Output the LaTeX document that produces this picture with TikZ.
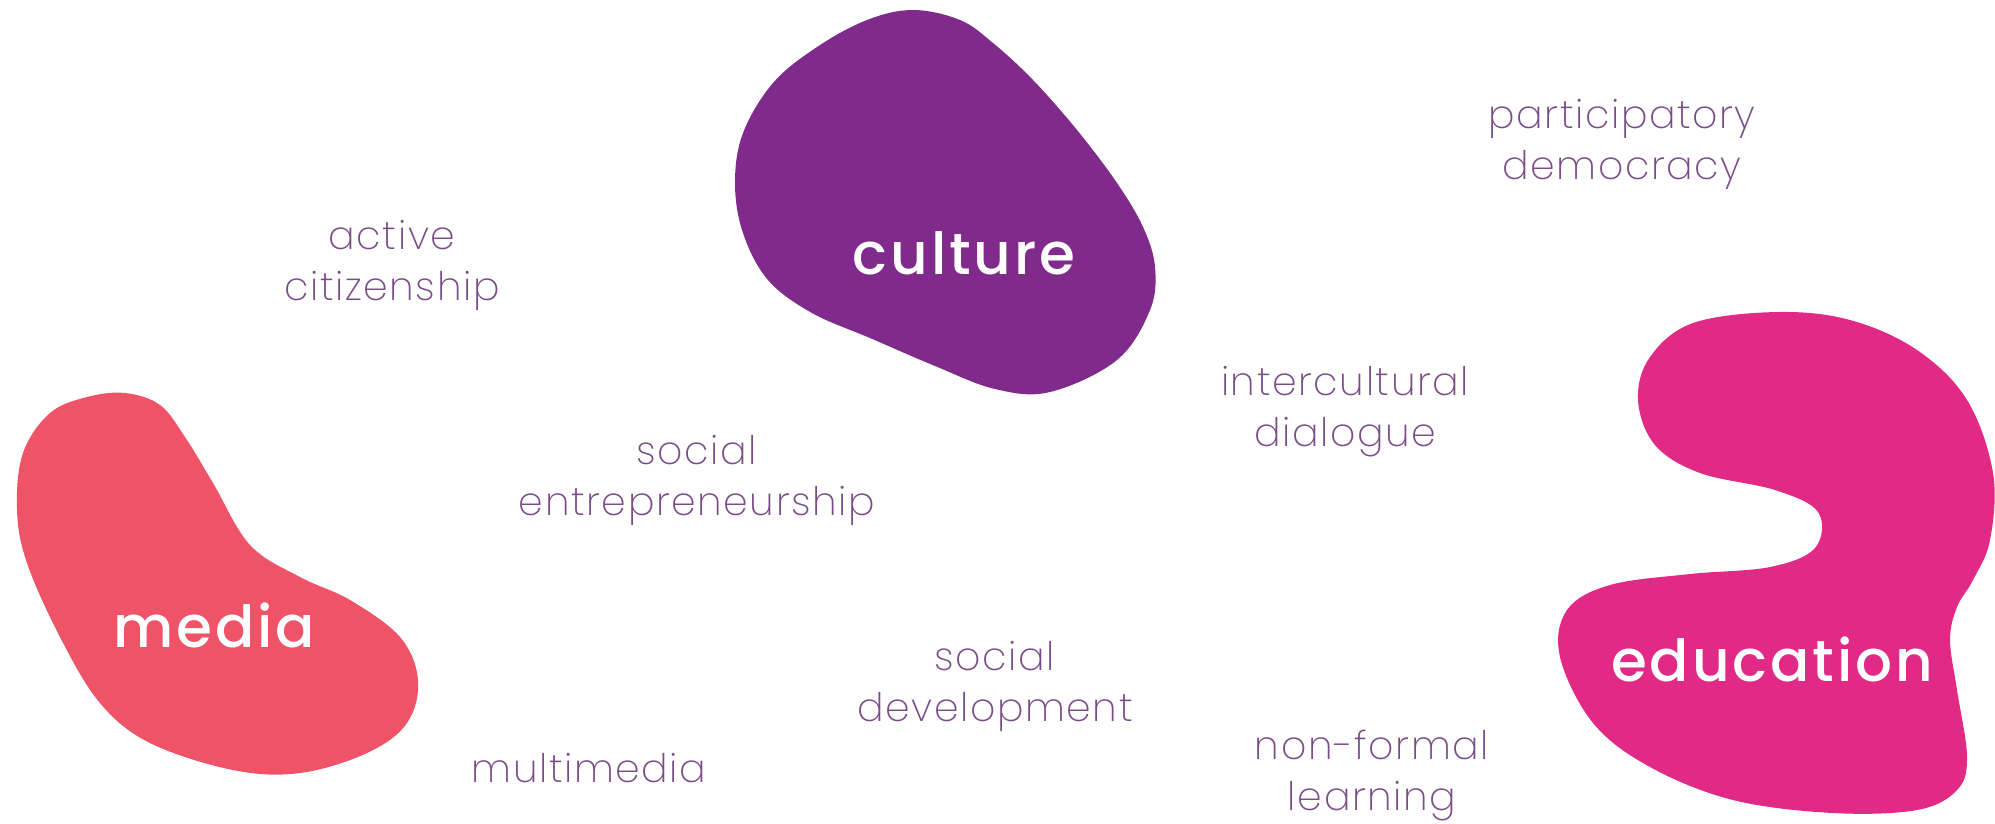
\documentclass[tikz,border=0pt]{standalone}
\usepackage{fontspec}
\newfontfamily\thinfont{Poppins ExtraLight}[LetterSpace=4]
\newfontfamily\labelfont{Poppins Medium}[LetterSpace=5]
\begin{document}
\begin{tikzpicture}[x=0.01cm, y=-0.01cm,
    every node/.style={align=center},
    word/.style={text=wordC, font=\thinfont\fontsize{11.2}{14.5}\selectfont},
    bloblabel/.style={text=white, font=\labelfont\fontsize{16.5}{18}\selectfont}]
        \definecolor{cultureC}{RGB}{128,42,140}
        \definecolor{mediaC}{RGB}{239,83,104}
        \definecolor{educationC}{RGB}{224,42,134}
        \definecolor{wordC}{RGB}{122,76,135}
        \useasboundingbox (0,0) rectangle (1995,823);
        % blobs
        \fill[cultureC] plot[smooth cycle, tension=0.6] coordinates {
          (913,10) (960,20) (993,43) (1033,80) (1077,130) (1117,183)
          (1143,227) (1155,267) (1150,310) (1117,360) (1050,392) (995,389)
          (935,366) (870,338) (812,313) (768,280) (743,233) (735,183)
          (743,133) (773,83) (817,47) (867,20)};
        \fill[mediaC] plot[smooth cycle, tension=0.6] coordinates {
          (125,393) (160,405) (185,437) (213,483) (250,545) (300,577)
          (350,600) (400,637) (418,680) (407,723) (367,753) (300,773)
          (233,770) (150,743) (100,703) (60,637) (27,563) (17,510)
          (23,453) (50,413) (87,397)};
        \fill[educationC] plot[smooth cycle, tension=0.6] coordinates {
          (1777,312) (1850,320) (1917,350) (1967,400) (1993,473) (1990,540)
          (1973,580) (1957,607) (1950,640) (1957,690) (1967,757) (1957,790)
          (1917,810) (1833,813) (1733,800) (1650,767) (1593,723) (1560,657)
          (1567,610) (1610,585) (1690,574) (1770,567) (1815,548)
          (1818,512) (1775,490) (1700,473) (1655,445) (1638,400)
          (1650,357) (1693,323)};
        % blob labels
        \node[bloblabel] (culture) at (964,253) {culture};
        \node[bloblabel] (media) at (214,625) {media};
        \node[bloblabel] (education) at (1772,659) {education};
        % words
        \node[word] (citizen) at (392,265) {active\\citizenship};
        \node[word] (democracy) at (1622,144) {participatory\\democracy};
        \node[word] (dialogue) at (1345,412) {intercultural\\dialogue};
        \node[word] (entrepreneur) at (697,480) {social\\entrepreneurship};
        \node[word] (development) at (995,686) {social\\development};
        \node[word] (multimedia) at (589,768) {multimedia};
        \node[word] (nonformal) at (1372,775) {non-formal\\learning};
      \end{tikzpicture}
\end{document}
